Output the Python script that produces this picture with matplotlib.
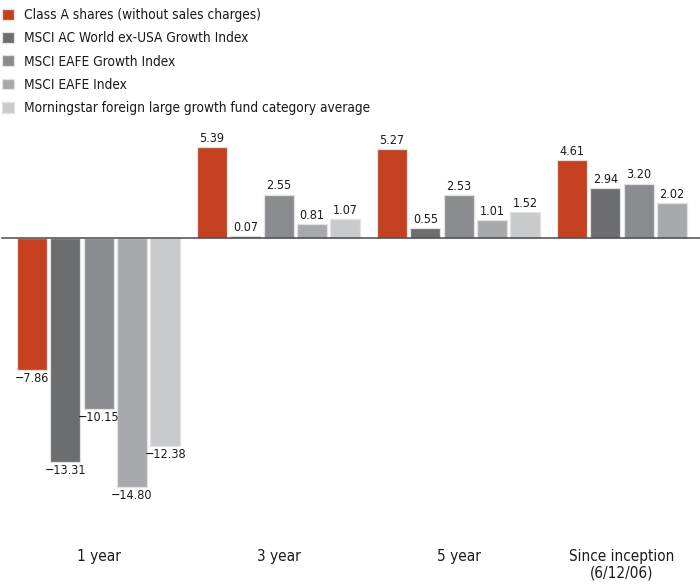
import matplotlib
matplotlib.use("Agg")
import matplotlib.pyplot as plt
import numpy as np

plt.rcParams['font.family'] = ['DejaVu Sans']
plt.rcParams['font.stretch'] = 'condensed'

# ---- data ----
periods = ["1 year", "3 year", "5 year", "Since inception\n(6/12/06)"]
series_names = [
    "Class A shares (without sales charges)",
    "MSCI AC World ex-USA Growth Index",
    "MSCI EAFE Growth Index",
    "MSCI EAFE Index",
    "Morningstar foreign large growth fund category average",
]
class_a = [-7.86, 5.39, 5.27, 4.61]
msci_acwi_ex_usa_growth = [-13.31, 0.07, 0.55, 2.94]
msci_eafe_growth = [-10.15, 2.55, 2.53, 3.20]
msci_eafe = [-14.80, 0.81, 1.01, 2.02]
morningstar_avg = [-12.38, 1.07, 1.52, None]
series_values = [class_a, msci_acwi_ex_usa_growth, msci_eafe_growth,
                 msci_eafe, morningstar_avg]
colors = ["#C5401F", "#6C6D70", "#8B8C8F", "#A8A9AC", "#C9CACC"]

# ---- layout ----
W, H = 700, 584
fig = plt.figure(figsize=(W / 100, H / 100), dpi=100)
ax = fig.add_axes([0, 0, 1, 1])

slot_px = 33.33
group_step = 5.4          # in slots
first_center_px = 32.0
px_per_unit = 16.85
zero_px = 237.5

ax.set_xlim(-first_center_px / slot_px, (W - first_center_px) / slot_px)
ax.set_ylim(-(H - zero_px) / px_per_unit, zero_px / px_per_unit)
ax.axis("off")

def fmt(v):
    return f"{v:.2f}".replace("-", "\u2212")

handles = []
for i, (name, vals, c) in enumerate(zip(series_names, series_values, colors)):
    xs, hs = [], []
    for g, v in enumerate(vals):
        if v is None:
            continue
        xs.append(g * group_step + i)
        hs.append(v)
    bars = ax.bar(xs, hs, width=0.9, color=c, edgecolor="#E2E2E2",
                  linewidth=0.9, zorder=2, label=name)
    ax.bar_label(bars, labels=[fmt(v) for v in hs], padding=1.5,
                 fontsize=9, color="#1a1a1a")
    handles.append(bars)

ax.axhline(0, xmin=0.003, xmax=1.0, color="#4a4a4a", lw=1.1, zorder=3)

# group labels
for g, p in enumerate(periods):
    n = sum(1 for vals in series_values if vals[g] is not None)
    center = g * group_step + (n - 1) / 2
    ax.text(center, -(549 - zero_px) / px_per_unit, p, ha="center", va="top",
            fontsize=11, color="#1a1a1a", linespacing=1.15,
            transform=ax.transData)

leg = ax.legend(handles=handles, loc="upper left",
                bbox_to_anchor=(2 / W, 1 - 8 / H), bbox_transform=fig.transFigure,
                frameon=False, fontsize=9.8, handlelength=0.9,
                handleheight=0.85, handletextpad=0.7, labelspacing=0.68,
                borderaxespad=0, borderpad=0)
for t in leg.get_texts():
    t.set_color("#1a1a1a")

fig.savefig("out.png", dpi=100)
